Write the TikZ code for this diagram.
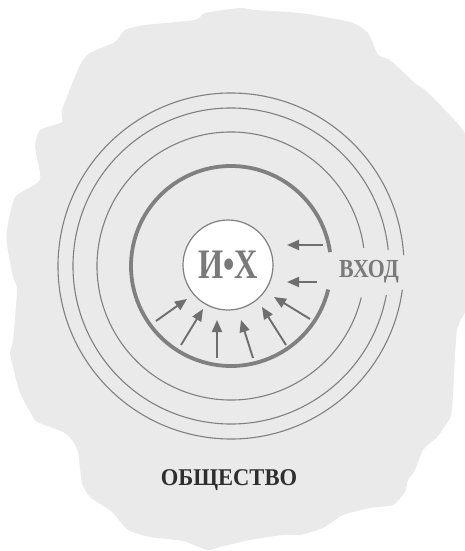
\documentclass[tikz,border=0pt]{standalone}
\usepackage{fontspec}
\setmainfont{Liberation Serif}
\usetikzlibrary{arrows.meta}
\definecolor{blobgray}{HTML}{EAEAEA}
\definecolor{ringgray}{HTML}{808080}
\definecolor{arrowgray}{HTML}{6E6E6E}
\definecolor{labelgray}{HTML}{7A7A7A}
\definecolor{textdark}{HTML}{2E2E2E}
\tikzset{
  ring/.style={ringgray, line width=1.1pt},
  wall/.style={ringgray, line width=3.8pt},
  push/.style={arrowgray, line width=1.9pt, -{Triangle[length=12pt,width=10pt]}},
}
\begin{document}
\begin{tikzpicture}[x=1pt,y=-1pt]
        \useasboundingbox (0,0) rectangle (465,551);
        \clip (0,0) rectangle (465,551);
        % society
        \fill[blobgray] plot[smooth cycle, tension=0.35] coordinates {
          (205,13) (240,8) (255,10) (300,13) (350,22) (368,33) (378,55) (390,60)
          (415,83) (425,90) (445,110) (468,140) (472,220) (470,300) (457,330)
          (452,410) (447,423) (437,437) (423,450) (415,470) (408,480) (405,492)
          (393,505) (370,508) (343,515) (323,528) (300,535) (283,535) (250,540)
          (220,547) (207,550) (183,541) (150,537) (128,530) (112,512) (90,497)
          (82,483) (78,452) (72,440) (63,432) (37,422) (33,417) (20,393) (13,367)
          (10,353) (13,340) (17,290) (13,277) (7,245) (7,230) (15,197) (40,180)
          (35,147) (40,130) (62,122) (62,110) (80,65) (90,53) (115,42) (125,30)
          (145,25) (195,20)};
        \coordinate (O) at (231,266);
        \draw[ring] ([shift={(7.9:173)}]O) arc (7.9:356.4:173);
        \draw[ring] ([shift={(10.6:158)}]O) arc (10.6:354.2:158);
        \draw[ring] ([shift={(13.6:134)}]O) arc (13.6:352.2:134);
        \draw[wall] ([shift={(13.6:100)}]O) arc (13.6:352:100);
        \node[circle, draw=ringgray, fill=white, line width=1.2pt, minimum size=90pt, inner sep=0pt,
              text=labelgray, font=\bfseries\fontsize{42}{42}\selectfont] (ix) at (228,265) {\scalebox{0.77}[1]{И•Х}};
        \node[text=labelgray, font=\bfseries\fontsize{26}{26}\selectfont] (vhod) at (369,272) {\scalebox{0.84}[1]{ВХОД}};
        \node[text=textdark, font=\bfseries\fontsize{24}{24}\selectfont] (obsh) at (229,480) {\scalebox{0.94}[1]{ОБЩЕСТВО}};
        % inward arrows
        \coordinate (t1) at (323,245); \coordinate (h1) at (287,245);
        \coordinate (t2) at (317,282); \coordinate (h2) at (287,282);
        \coordinate (t3) at (156,321); \coordinate (h3) at (187,299);
        \coordinate (t4) at (181,345); \coordinate (h4) at (203,309);
        \coordinate (t5) at (217,358); \coordinate (h5) at (217,320);
        \coordinate (t6) at (253,358); \coordinate (h6) at (241,320);
        \coordinate (t7) at (286,345); \coordinate (h7) at (262,307);
        \coordinate (t8) at (310,319); \coordinate (h8) at (274,297);
        \draw[push] (t1) -- (h1);
        \draw[push] (t2) -- (h2);
        \draw[push] (t3) -- (h3);
        \draw[push] (t4) -- (h4);
        \draw[push] (t5) -- (h5);
        \draw[push] (t6) -- (h6);
        \draw[push] (t7) -- (h7);
        \draw[push] (t8) -- (h8);
\end{tikzpicture}
\end{document}
